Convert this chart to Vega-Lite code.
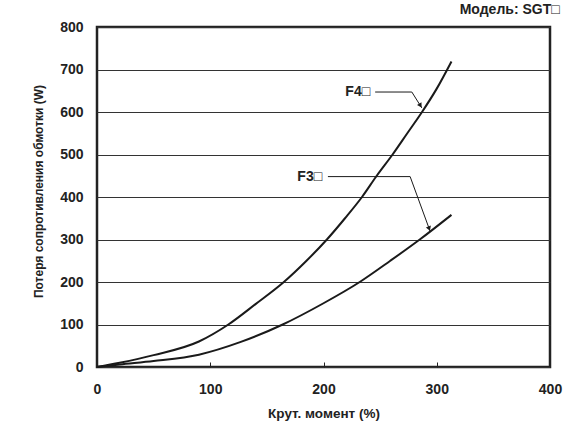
{
  "$schema": "https://vega.github.io/schema/vega-lite/v6.json",
  "width": 453,
  "height": 340,
  "autosize": {"type": "none"},
  "padding": {"left": 97, "top": 27, "right": 14, "bottom": 70},
  "background": "white",
  "config": {
    "font": "Liberation Sans",
    "view": {"stroke": "#222", "strokeWidth": 2.5},
    "axis": {"labelFont": "Liberation Sans", "titleFont": "Liberation Sans", "labelFontWeight": "bold", "titleFontWeight": "bold", "labelFontSize": 14, "titleFontSize": 12, "labelColor": "#222", "titleColor": "#222", "domain": false, "labelFlush": false, "labelOverlap": false}
  },
  "title": {"text": "Модель: SGT□", "anchor": "end", "fontSize": 14, "fontWeight": "bold", "font": "Liberation Sans", "color": "#222", "offset": 3, "dx": -2},
  "layer": [
    {
      "data": {"values": [
        {"s": "F4", "x": 0, "y": 0}, {"s": "F4", "x": 20, "y": 10}, {"s": "F4", "x": 50, "y": 28}, {"s": "F4", "x": 90, "y": 60},
        {"s": "F4", "x": 116, "y": 100}, {"s": "F4", "x": 140, "y": 148}, {"s": "F4", "x": 165, "y": 200}, {"s": "F4", "x": 185, "y": 250},
        {"s": "F4", "x": 203, "y": 300}, {"s": "F4", "x": 219, "y": 350}, {"s": "F4", "x": 234, "y": 400}, {"s": "F4", "x": 247, "y": 450},
        {"s": "F4", "x": 261, "y": 500}, {"s": "F4", "x": 274, "y": 550}, {"s": "F4", "x": 287, "y": 600}, {"s": "F4", "x": 300, "y": 655},
        {"s": "F4", "x": 313, "y": 719},
        {"s": "F3", "x": 0, "y": 0}, {"s": "F3", "x": 20, "y": 6}, {"s": "F3", "x": 50, "y": 14}, {"s": "F3", "x": 90, "y": 29},
        {"s": "F3", "x": 127, "y": 59}, {"s": "F3", "x": 164, "y": 100}, {"s": "F3", "x": 200, "y": 150}, {"s": "F3", "x": 232, "y": 200},
        {"s": "F3", "x": 259, "y": 250}, {"s": "F3", "x": 285, "y": 300}, {"s": "F3", "x": 313, "y": 358}
      ]},
      "mark": {"type": "line", "color": "#1a1a1a", "strokeWidth": 2, "interpolate": "monotone"},
      "encoding": {
        "x": {"field": "x", "type": "quantitative", "scale": {"domain": [0, 400]}, "axis": {"title": "Крут. момент (%)", "titleFontSize": 13.5, "values": [0, 100, 200, 300, 400], "grid": false, "tickSize": -5, "tickColor": "#222", "tickWidth": 1, "labelPadding": 20, "titlePadding": 10}},
        "y": {"field": "y", "type": "quantitative", "scale": {"domain": [0, 800]}, "axis": {"title": "Потеря сопротивления обмотки (W)", "titleY": 164, "values": [0, 100, 200, 300, 400, 500, 600, 700, 800], "ticks": false, "labelPadding": 14, "titlePadding": 14, "gridColor": "#333", "gridOpacity": 1, "gridWidth": 1}},
        "detail": {"field": "s"}
      }
    },
    {
      "data": {"values": [
        {"g": "F4", "o": 1, "x": 245.6, "y": 647}, {"g": "F4", "o": 2, "x": 278, "y": 647}, {"g": "F4", "o": 3, "x": 286.8, "y": 609.6},
        {"g": "F3", "o": 1, "x": 203.9, "y": 448}, {"g": "F3", "o": 2, "x": 276.5, "y": 448}, {"g": "F3", "o": 3, "x": 294.2, "y": 319}
      ]},
      "mark": {"type": "line", "color": "#1a1a1a", "strokeWidth": 1},
      "encoding": {
        "x": {"field": "x", "type": "quantitative"},
        "y": {"field": "y", "type": "quantitative"},
        "detail": {"field": "g"},
        "order": {"field": "o"}
      }
    },
    {
      "data": {"values": [
        {"x": 285.6, "y": 615, "a": 328},
        {"x": 293.3, "y": 325.5, "a": 340}
      ]},
      "mark": {"type": "point", "shape": "triangle-down", "filled": true, "color": "#1a1a1a", "size": 28, "opacity": 1},
      "encoding": {
        "x": {"field": "x", "type": "quantitative"},
        "y": {"field": "y", "type": "quantitative"},
        "angle": {"field": "a", "type": "quantitative", "scale": null}
      }
    },
    {
      "data": {"values": [
        {"x": 241.2, "y": 646, "t": "F4□"},
        {"x": 198.8, "y": 448, "t": "F3□"}
      ]},
      "mark": {"type": "text", "align": "right", "baseline": "middle", "fontSize": 14, "fontWeight": "bold", "font": "Liberation Sans", "color": "#222"},
      "encoding": {
        "x": {"field": "x", "type": "quantitative"},
        "y": {"field": "y", "type": "quantitative"},
        "text": {"field": "t"}
      }
    }
  ]
}
